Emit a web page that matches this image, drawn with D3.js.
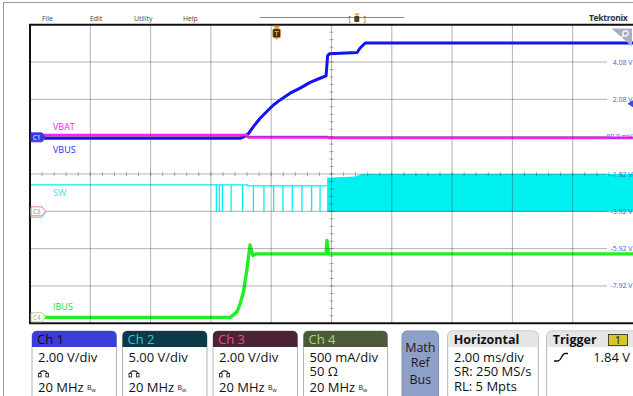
<!DOCTYPE html>
<html><head><meta charset="utf-8">
<script src="https://cdn.jsdelivr.net/npm/d3@7/dist/d3.min.js"></script>
<style>
html,body{margin:0;padding:0;background:#fff;}
svg{display:block;font-family:"Open Sans","Noto Sans",sans-serif;}
</style></head><body>
<svg id="c" width="633" height="396"></svg>
<script>
// ---------------- data ----------------
const menuItems = ["File", "Edit", "Utility", "Help"];
const offsetLabels = ["4.08 V", "2.08 V", "80.0 mV", "-1.92 V", "-3.92 V", "-5.92 V", "-7.92 V"];
const offsetDivs = [3, 2, 1, 0, -1, -2, -3];

// VBUS (Ch1, V) vs time (ms, trigger at 0)
const vbusTime  = [-8.18, -1.19, -1.05, -0.935, -0.77, -0.547, -0.325, -0.106, 0.116, 0.448, 0.78, 1.11, 1.44, 1.64, 1.69, 1.75, 2.67, 2.77, 2.94, 11.82];
const vbusVolts = [0.0,    0.0,   0.10,  0.25,   0.62,  1.07,   1.43,   1.78,   2.05,  2.41,  2.68, 2.99, 3.21, 3.34, 4.40, 4.52, 4.59, 4.83, 5.10, 5.10];

// VBAT (Ch3, V)
const vbatTime  = [-8.18, -1.0, -0.93, 1.68, 1.72, 11.82];
const vbatVolts = [4.08,  4.08, 3.97,  3.97, 3.94, 3.94];

// SW (Ch2, V): idle level, isolated pulses, then continuous switching
const swTime  = [-8.18, -0.97, -0.96, 1.68];
const swVolts = [3.55,  3.55,  3.42,  3.42];
const swPulseTime = [-2.00, -1.90, -1.80, -1.51, -1.13, -0.77, -0.42, -0.10, 0.21, 0.52, 0.84, 1.16, 1.44];
const swPulseLow = 0.0;
const swBurstTime = [1.675, 2.6, 2.83, 11.82];
const swBurstHigh = [4.50, 4.65, 5.0, 5.0];
const swBurstLow = -0.1;

// IBUS (Ch4, A)
const ibusTime = [-8.18, -1.54, -1.32, -1.21, -1.10, -0.99, -0.88, -0.79, -0.68, 1.64, 1.67, 1.72, 11.82];
const ibusAmps = [0.0,    0.0,   0.07,  0.18,  0.34,  0.63,  0.97,  0.83,  0.85,  0.85, 1.03, 0.85, 0.85];

// channel badges
const chNames = ["Ch 1", "Ch 2", "Ch 3", "Ch 4"];
const chScale = ["2.00 V/div", "5.00 V/div", "2.00 V/div", "500 mA/div"];
const chTerm  = ["probe", "probe", "probe", "50 Ω"];
const chBw    = ["20 MHz", "20 MHz", "20 MHz", "20 MHz"];
const mathRefBus = ["Math", "Ref", "Bus"];
const horizTitle = "Horizontal";
const horizLines = ["2.00 ms/div", "SR: 250 MS/s", "RL: 5 Mpts"];
const trigTitle = "Trigger";
const trigSource = "1";
const trigLevel = "1.84 V";
const traceLabels = ["VBAT", "VBUS", "SW", "IBUS"];

// ---------------- layout ----------------
const svg = d3.select("#c");
const L = 30, R = 633, T = 24.7, B = 323.3;
const x = d3.scaleLinear().domain([-8.18, 11.82]).range([L, R]);
const div = d3.scaleLinear().domain([-4, 4]).range([B, T]);
const ch1 = v => div(0.96 + v / 2);
const ch2 = v => div(-1 + v / 5);
const ch3 = v => div(-1 + v / 2);
const ch4 = a => div(-3.84 + a / 0.5);

const colBlue = "#1212f2", colMag = "#ff1cff", colCyan = "#00f0f0", colGreen = "#1ff01f";

// outer frame
svg.append("rect").attr("x", 3.5).attr("y", 2.5).attr("width", 700).attr("height", 500)
  .attr("fill", "none").attr("stroke", "#9a9a9a").attr("stroke-width", 1);

// menu
const menuX = [42, 90, 134, 183];
svg.selectAll("text.menu").data(menuItems).join("text")
  .attr("x", (d, i) => menuX[i]).attr("y", 20.5).attr("font-size", 6.8).attr("fill", "#444").text(d => d);
svg.append("line").attr("x1", 260).attr("x2", 404).attr("y1", 17.5).attr("y2", 17.5).attr("stroke", "#8a8a8a");
svg.append("text").attr("x", 348.5).attr("y", 21).attr("font-size", 7).attr("fill", "#555").text("[");
svg.append("text").attr("x", 363.5).attr("y", 21).attr("font-size", 7).attr("fill", "#555").text("]");
svg.append("path").attr("d", "M354,13.5 L360,13.5 L357,16 Z").attr("fill", "#f0902a");
svg.append("rect").attr("x", 354.3).attr("y", 16).attr("width", 5).attr("height", 6).attr("rx", 1).attr("fill", "#5a3a1a");
svg.append("text").attr("x", 589).attr("y", 21).attr("font-size", 8.5).attr("font-weight", "bold").attr("fill", "#333")
  .attr("letter-spacing", -0.3).text("Tektronix");

// ---------- traces ----------
const g = svg.append("g");
// SW burst fill
const burst = swBurstTime.map((t, i) => [t, swBurstHigh[i]]);
g.append("path").datum(burst)
  .attr("d", d3.area().x(d => x(d[0])).y0(ch2(swBurstLow)).y1(d => ch2(d[1])))
  .attr("fill", colCyan);
// SW line with pulses
const swLevel = d3.scaleLinear().domain(swTime).range(swVolts).clamp(true);
const swPts = [];
const evts = swTime.map(t => ({t, p: false})).concat(swPulseTime.map(t => ({t, p: true}))).sort((a, b) => a.t - b.t);
evts.forEach(e => {
  const lv = swLevel(e.t);
  if (e.p) { swPts.push([e.t, lv], [e.t, swPulseLow], [e.t, lv]); }
  else swPts.push([e.t, lv]);
});
g.append("path").datum(swPts)
  .attr("d", d3.line().x(d => x(d[0])).y(d => ch2(d[1])))
  .attr("fill", "none").attr("stroke", colCyan).attr("stroke-width", 1.3);

// IBUS
g.append("path").datum(ibusTime.map((t, i) => [t, ibusAmps[i]]))
  .attr("d", d3.line().x(d => x(d[0])).y(d => ch4(d[1])))
  .attr("fill", "none").attr("stroke", colGreen).attr("stroke-width", 3.4).attr("stroke-linejoin", "round");
// VBUS
g.append("path").datum(vbusTime.map((t, i) => [t, vbusVolts[i]]))
  .attr("d", d3.line().x(d => x(d[0])).y(d => ch1(d[1])))
  .attr("fill", "none").attr("stroke", colBlue).attr("stroke-width", 3).attr("stroke-linejoin", "round");
// VBAT
g.append("path").datum(vbatTime.map((t, i) => [t, vbatVolts[i]]))
  .attr("d", d3.line().x(d => x(d[0])).y(d => ch3(d[1])))
  .attr("fill", "none").attr("stroke", colMag).attr("stroke-width", 2.8);

// ---------- grid (overlay) ----------
const grid = svg.append("g").attr("stroke", "rgba(70,70,70,0.42)").attr("stroke-width", 1);
const xDivs = d3.range(1, 10);
grid.selectAll("line.v").data(xDivs).join("line")
  .attr("x1", i => L + i * (R - L) / 10).attr("x2", i => L + i * (R - L) / 10)
  .attr("y1", T).attr("y2", B);
const yDivs = d3.range(-3, 4);
grid.selectAll("line.h").data(yDivs).join("line")
  .attr("x1", L).attr("x2", 607).attr("y1", d => div(d)).attr("y2", d => div(d));
// center ticks
const tickH = d3.range(0, 51).map(i => L + i * (R - L) / 50);
grid.selectAll("line.th").data(tickH).join("line")
  .attr("x1", d => d).attr("x2", d => d).attr("y1", div(0) - 2.2).attr("y2", div(0) + 2.2);
const tickV = d3.range(0, 41).map(i => div(-4 + i * 0.2));
grid.selectAll("line.tv").data(tickV).join("line")
  .attr("x1", L + 5 * (R - L) / 10 - 2.2).attr("x2", L + 5 * (R - L) / 10 + 2.2).attr("y1", d => d).attr("y2", d => d);

// plot border
svg.append("path").attr("d", `M${R},${T} L${L},${T} L${L},${B} L${R},${B}`)
  .attr("fill", "none").attr("stroke", "#111").attr("stroke-width", 2);

// offset labels right
svg.selectAll("text.off").data(offsetLabels).join("text")
  .attr("x", 632.5).attr("y", (d, i) => div(offsetDivs[i]) + 2.5)
  .attr("text-anchor", "end").attr("font-size", 7).attr("fill", "#4a56e6").text(d => d);

// trigger level marker right
svg.append("path").attr("d", `M627.5,${ch1(1.84)} L633,${ch1(1.84) - 3.5} L633,${ch1(1.84) + 3.5} Z`).attr("fill", "#3a4ae0");

// zoom triangle top-right
svg.append("path").attr("d", "M611.5,28.5 L632,28.5 L632,46.5 Z").attr("fill", "#a9b0c0");
svg.append("circle").attr("cx", 625.5).attr("cy", 33.5).attr("r", 2.6).attr("fill", "none").attr("stroke", "#fff").attr("stroke-width", 1.1);
svg.append("line").attr("x1", 623.6).attr("y1", 35.4).attr("x2", 620.5).attr("y2", 38.5).attr("stroke", "#fff").attr("stroke-width", 1.3);

// trigger position marker
const tx = x(0);
svg.append("path").attr("d", `M${tx - 4},${T + 1} L${tx + 4},${T + 1} L${tx},${T + 4} Z`).attr("fill", "#f0902a");
svg.append("rect").attr("x", tx - 3.8).attr("y", T + 4).attr("width", 7.6).attr("height", 9).attr("rx", 1.5)
  .attr("fill", "#3e2a14").attr("stroke", "#e08a2a").attr("stroke-width", 0.8);
svg.append("text").attr("x", tx).attr("y", T + 11.3).attr("text-anchor", "middle").attr("font-size", 7).attr("font-weight", "bold").attr("fill", "#f0a040").text("T");
svg.append("path").attr("d", `M${tx - 2},${T + 13} L${tx + 2},${T + 13} L${tx},${T + 15} Z`).attr("fill", "#f0902a");

// channel ground markers
function tag(yc, fill, stroke, textCol, label, dy) {
  const gg = svg.append("g").attr("transform", `translate(0,${yc + (dy || 0)})`);
  gg.append("path").attr("d", "M31,-4.5 L42,-4.5 L45.5,0 L42,4.5 L31,4.5 Z")
    .attr("fill", fill).attr("stroke", stroke).attr("stroke-width", 0.9);
  if (label) gg.append("text").attr("x", 33).attr("y", 2.3).attr("font-size", 6.2).attr("fill", textCol).text(label);
}
tag(ch2(0) + 1.5, "#fff", "#40e0f0", "#fff", "");
tag(ch1(0) - 0.8, "#3a3ae0", "#3a3ae0", "#fff", "C1");
tag(ch3(0), "#fff", "#e07090", "#e06080", "C3");
tag(ch4(0), "#fff", "#b0cc70", "#90b050", "C4");

// trace labels
const labY = [129.5, 153.3, 196, 310];
const labCol = [colMag, "#2a2af0", "#30e4f0", "#22e022"];
svg.selectAll("text.tl").data(traceLabels).join("text")
  .attr("x", 53).attr("y", (d, i) => labY[i]).attr("font-size", 9).attr("fill", (d, i) => labCol[i]).text(d => d);

// ---------- bottom badges ----------
const chX = [32, 122.5, 213, 303.5];
const chW = [84.5, 84.5, 84.5, 84];
const hdrFill = ["#3c3cd8", "#0d3a48", "#4b2236", "#4c5a3b"];
const hdrText = ["#101010", "#2cc6d8", "#e0508c", "#b2d862"];
const BY = 331;
chNames.forEach((n, i) => {
  const bx = chX[i], bw = chW[i];
  const gg = svg.append("g");
  gg.append("rect").attr("x", bx).attr("y", BY).attr("width", bw).attr("height", 80).attr("rx", 5)
    .attr("fill", "#fff").attr("stroke", "#b4b4b4");
  gg.append("path").attr("d", `M${bx},${BY + 16} L${bx},${BY + 5} Q${bx},${BY} ${bx + 5},${BY} L${bx + bw - 5},${BY} Q${bx + bw},${BY} ${bx + bw},${BY + 5} L${bx + bw},${BY + 16} Z`)
    .attr("fill", hdrFill[i]);
  gg.append("text").attr("x", bx + 5).attr("y", 344).attr("font-size", 13).attr("fill", hdrText[i]).text(n);
  gg.append("text").attr("x", bx + 6).attr("y", 361.8).attr("font-size", 13).attr("fill", "#111").text(chScale[i]);
  if (chTerm[i] === "probe") {
    const px = bx + 6.5, py = 370.5;
    gg.append("path").attr("d", `M${px + 1},${py + 4} A4,3.6 0 0 1 ${px + 9},${py + 4}`)
      .attr("fill", "none").attr("stroke", "#222").attr("stroke-width", 1.3);
    gg.append("rect").attr("x", px).attr("y", py + 3).attr("width", 2.6).attr("height", 3.4).attr("fill", "#fff").attr("stroke", "#222").attr("stroke-width", 0.9);
    gg.append("rect").attr("x", px + 7.4).attr("y", py + 3).attr("width", 2.6).attr("height", 3.4).attr("fill", "#fff").attr("stroke", "#222").attr("stroke-width", 0.9);
  } else {
    gg.append("text").attr("x", bx + 6).attr("y", 376).attr("font-size", 13).attr("fill", "#111").text(chTerm[i]);
  }
  const t = gg.append("text").attr("x", bx + 6).attr("y", 391.6).attr("font-size", 13).attr("fill", "#111");
  t.append("tspan").text(chBw[i] + " ");
  t.append("tspan").attr("font-size", 7).attr("dy", -2).text("B");
  t.append("tspan").attr("font-size", 5.5).attr("dy", 2).text("w");
});

// Math Ref Bus
svg.append("rect").attr("x", 402).attr("y", BY).attr("width", 36.5).attr("height", 80).attr("rx", 5)
  .attr("fill", "#8fa0c8").attr("stroke", "#7c8cb4");
const mrbY = [351.5, 366.8, 384];
svg.selectAll("text.mrb").data(mathRefBus).join("text")
  .attr("x", 420.3).attr("y", (d, i) => mrbY[i]).attr("text-anchor", "middle").attr("font-size", 12.5).attr("fill", "#1a1a1a").text(d => d);

// Horizontal / Trigger boxes
function infoBox(bx, bw, title) {
  const gg = svg.append("g");
  gg.append("rect").attr("x", bx).attr("y", BY).attr("width", bw).attr("height", 80).attr("rx", 5)
    .attr("fill", "#fff").attr("stroke", "#b4b4b4");
  gg.append("path").attr("d", `M${bx + 0.5},${BY + 16} L${bx + 0.5},${BY + 5} Q${bx + 0.5},${BY + 0.5} ${bx + 5},${BY + 0.5} L${bx + bw - 5},${BY + 0.5} Q${bx + bw - 0.5},${BY + 0.5} ${bx + bw - 0.5},${BY + 5} L${bx + bw - 0.5},${BY + 16} Z`)
    .attr("fill", "#e6e6e6");
  gg.append("text").attr("x", bx + 6).attr("y", 344).attr("font-size", 12.5).attr("font-weight", "bold").attr("fill", "#111").text(title);
  return gg;
}
const hb = infoBox(447.7, 90.6, horizTitle);
const hY = [361.6, 376.2, 391.2];
hb.selectAll("text.hl").data(horizLines).join("text")
  .attr("x", 454).attr("y", (d, i) => hY[i]).attr("font-size", 13).attr("fill", "#111").text(d => d);

const tb = infoBox(546.7, 100, trigTitle);
tb.append("rect").attr("x", 608.5).attr("y", 334.5).attr("width", 19).attr("height", 11).attr("fill", "#d6c62a").attr("stroke", "#3a3a20").attr("stroke-width", 0.9);
tb.append("text").attr("x", 618).attr("y", 344).attr("text-anchor", "middle").attr("font-size", 11).attr("fill", "#111").text(trigSource);
tb.append("path").attr("d", "M554,361 L558,361 C561,361 562,353.5 565,353.5 L568,353.5").attr("fill", "none").attr("stroke", "#111").attr("stroke-width", 1.4);
tb.append("text").attr("x", 630).attr("y", 361.8).attr("text-anchor", "end").attr("font-size", 13).attr("fill", "#111").text(trigLevel);
</script>
</body></html>
